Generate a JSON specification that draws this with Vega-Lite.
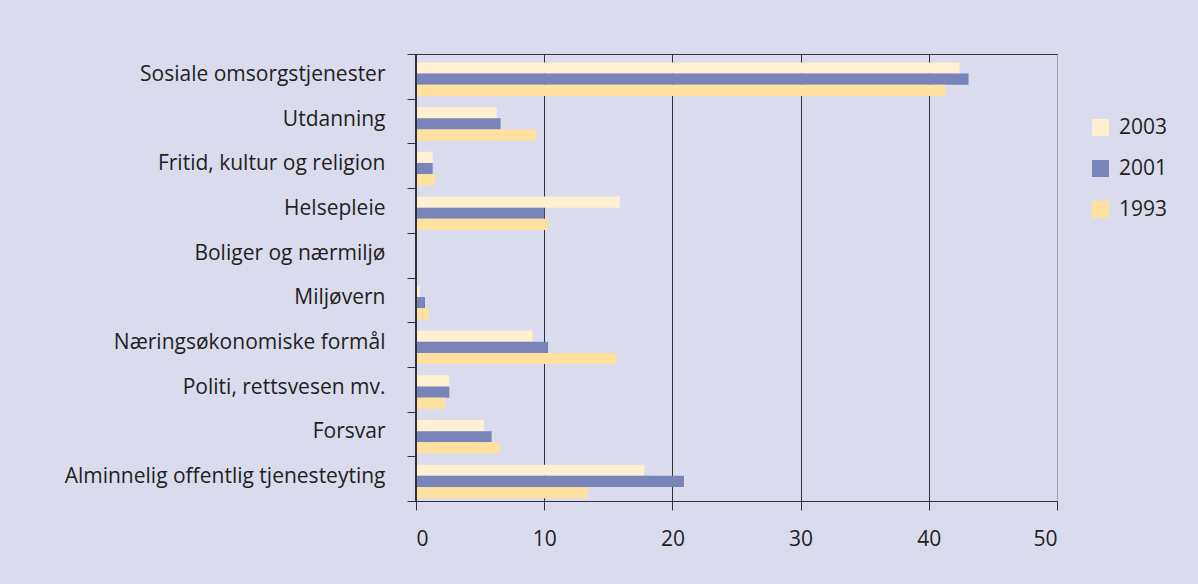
{
  "$schema": "https://vega.github.io/schema/vega-lite/v6.json",
  "autosize": {"type": "none"},
  "padding": {"left": 416, "top": 54, "right": 141, "bottom": 83},
  "width": 641,
  "height": 447,
  "background": "#dadcee",
  "config": {"view": {"stroke": null}, "font": "Open Sans"},
  "data": {"values": [
    {"cat": "Sosiale omsorgstjenester", "year": "2003", "value": 42.4},
    {"cat": "Sosiale omsorgstjenester", "year": "2001", "value": 43.1},
    {"cat": "Sosiale omsorgstjenester", "year": "1993", "value": 41.3},
    {"cat": "Utdanning", "year": "2003", "value": 6.3},
    {"cat": "Utdanning", "year": "2001", "value": 6.6},
    {"cat": "Utdanning", "year": "1993", "value": 9.4},
    {"cat": "Fritid, kultur og religion", "year": "2003", "value": 1.3},
    {"cat": "Fritid, kultur og religion", "year": "2001", "value": 1.3},
    {"cat": "Fritid, kultur og religion", "year": "1993", "value": 1.5},
    {"cat": "Helsepleie", "year": "2003", "value": 15.9},
    {"cat": "Helsepleie", "year": "2001", "value": 10.0},
    {"cat": "Helsepleie", "year": "1993", "value": 10.3},
    {"cat": "Boliger og nærmiljø", "year": "2003", "value": 0},
    {"cat": "Boliger og nærmiljø", "year": "2001", "value": 0},
    {"cat": "Boliger og nærmiljø", "year": "1993", "value": 0},
    {"cat": "Miljøvern", "year": "2003", "value": 0.3},
    {"cat": "Miljøvern", "year": "2001", "value": 0.7},
    {"cat": "Miljøvern", "year": "1993", "value": 1.0},
    {"cat": "Næringsøkonomiske formål", "year": "2003", "value": 9.1},
    {"cat": "Næringsøkonomiske formål", "year": "2001", "value": 10.3},
    {"cat": "Næringsøkonomiske formål", "year": "1993", "value": 15.6},
    {"cat": "Politi, rettsvesen mv.", "year": "2003", "value": 2.6},
    {"cat": "Politi, rettsvesen mv.", "year": "2001", "value": 2.6},
    {"cat": "Politi, rettsvesen mv.", "year": "1993", "value": 2.3},
    {"cat": "Forsvar", "year": "2003", "value": 5.3},
    {"cat": "Forsvar", "year": "2001", "value": 5.9},
    {"cat": "Forsvar", "year": "1993", "value": 6.5},
    {"cat": "Alminnelig offentlig tjenesteyting", "year": "2003", "value": 17.8},
    {"cat": "Alminnelig offentlig tjenesteyting", "year": "2001", "value": 20.9},
    {"cat": "Alminnelig offentlig tjenesteyting", "year": "1993", "value": 13.4}
  ]},
  "layer": [
    {
      "mark": {"type": "bar"},
      "encoding": {
        "y": {
          "field": "cat", "type": "nominal",
          "sort": ["Sosiale omsorgstjenester", "Utdanning", "Fritid, kultur og religion", "Helsepleie", "Boliger og nærmiljø", "Miljøvern", "Næringsøkonomiske formål", "Politi, rettsvesen mv.", "Forsvar", "Alminnelig offentlig tjenesteyting"],
          "scale": {"paddingInner": 0, "paddingOuter": 0},
          "axis": {"title": null, "tickBand": "extent", "tickSize": 9, "labelPadding": 22, "labelFontSize": 21, "labelColor": "#231f20", "labelOffset": -2, "domainColor": "#333333", "tickColor": "#333333", "labelLimit": 0}
        },
        "yOffset": {
          "field": "year", "type": "nominal", "sort": ["2003", "2001", "1993"],
          "scale": {"paddingInner": 0, "paddingOuter": 0.5, "align": 0.75}
        },
        "x": {
          "field": "value", "type": "quantitative",
          "scale": {"domain": [0, 50], "nice": false},
          "axis": {"title": null, "values": [0, 10, 20, 30, 40, 50], "grid": true,
            "gridColor": {"condition": {"test": "datum.value === 50", "value": "#a0a0a8"}, "value": "#333333"},
            "tickSize": 9, "labelPadding": 18, "labelFontSize": 21, "labelColor": "#231f20", "domainColor": "#333333", "tickColor": "#333333"}
        },
        "color": {
          "field": "year", "type": "nominal", "sort": ["2003", "2001", "1993"],
          "scale": {"domain": ["2003", "2001", "1993"], "range": ["#fff0d2", "#7985b8", "#ffe09e"]},
          "legend": {"title": null, "orient": "none", "legendX": 674, "legendY": 63, "padding": 0, "symbolType": "square", "symbolSize": 289, "symbolStrokeWidth": 0, "labelFontSize": 21, "labelColor": "#231f20", "labelOffset": 8, "rowPadding": 19}
        }
      }
    },
    {
      "mark": {"type": "rule", "stroke": "#333333"},
      "encoding": {
        "x": {"datum": 0, "type": "quantitative", "axis": {"orient": "top", "title": null, "labels": false, "ticks": false, "grid": false, "domainColor": "#333333"}}
      }
    }
  ],
  "resolve": {"axis": {"x": "independent"}}
}
